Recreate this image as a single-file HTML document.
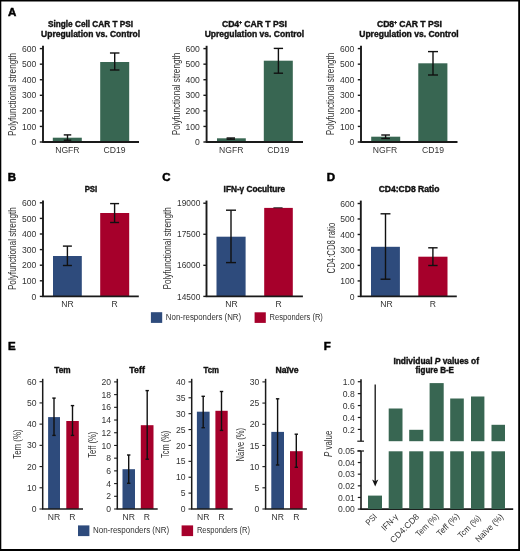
<!DOCTYPE html>
<html><head><meta charset="utf-8"><style>
html,body{margin:0;padding:0;background:#fff;width:520px;height:551px;overflow:hidden}
svg text{font-family:"Liberation Sans", sans-serif}
svg{will-change:transform}
</style></head><body>
<svg width="520" height="551" viewBox="0 0 520 551" style="display:block" font-family='"Liberation Sans", sans-serif'>
<rect x="0" y="0" width="520" height="551" fill="#000"/>
<rect x="1.3" y="1.5" width="516.9" height="547.5" fill="#fff"/>
<text x="8" y="16.0" font-size="11.5" font-weight="bold" stroke="#000" stroke-width="0.5" fill="#000">A</text>
<text x="7.7" y="181.2" font-size="11.5" font-weight="bold" stroke="#000" stroke-width="0.5" fill="#000">B</text>
<text x="162.3" y="181.3" font-size="11.5" font-weight="bold" stroke="#000" stroke-width="0.5" fill="#000">C</text>
<text x="326.7" y="181.3" font-size="11.5" font-weight="bold" stroke="#000" stroke-width="0.5" fill="#000">D</text>
<text x="8.1" y="350" font-size="11.5" font-weight="bold" stroke="#000" stroke-width="0.5" fill="#000">E</text>
<text x="323.8" y="349.7" font-size="11.5" font-weight="bold" stroke="#000" stroke-width="0.5" fill="#000">F</text>
<line x1="43" y1="45.8" x2="43" y2="142" stroke="#1a1a1a" stroke-width="1.9"/>
<line x1="39.8" y1="142" x2="43" y2="142" stroke="#1a1a1a" stroke-width="1.4"/>
<text x="36.30" y="145.10" font-size="8.6" text-anchor="end" fill="#333333">0</text>
<line x1="39.8" y1="126.43" x2="43" y2="126.43" stroke="#1a1a1a" stroke-width="1.4"/>
<text x="36.30" y="129.53" font-size="8.6" text-anchor="end" fill="#333333">100</text>
<line x1="39.8" y1="110.87" x2="43" y2="110.87" stroke="#1a1a1a" stroke-width="1.4"/>
<text x="36.30" y="113.96" font-size="8.6" text-anchor="end" fill="#333333">200</text>
<line x1="39.8" y1="95.3" x2="43" y2="95.3" stroke="#1a1a1a" stroke-width="1.4"/>
<text x="36.30" y="98.40" font-size="8.6" text-anchor="end" fill="#333333">300</text>
<line x1="39.8" y1="79.73" x2="43" y2="79.73" stroke="#1a1a1a" stroke-width="1.4"/>
<text x="36.30" y="82.83" font-size="8.6" text-anchor="end" fill="#333333">400</text>
<line x1="39.8" y1="64.17" x2="43" y2="64.17" stroke="#1a1a1a" stroke-width="1.4"/>
<text x="36.30" y="67.26" font-size="8.6" text-anchor="end" fill="#333333">500</text>
<line x1="39.8" y1="48.6" x2="43" y2="48.6" stroke="#1a1a1a" stroke-width="1.4"/>
<text x="36.30" y="51.70" font-size="8.6" text-anchor="end" fill="#333333">600</text>
<rect x="52.80" y="137.70" width="29.00" height="4.30" fill="#386652"/>
<rect x="100.20" y="62.00" width="29.00" height="80.00" fill="#386652"/>
<line x1="67.5" y1="134.9" x2="67.5" y2="140.2" stroke="#111" stroke-width="1.4"/>
<line x1="63.75" y1="134.9" x2="71.25" y2="134.9" stroke="#111" stroke-width="1.4"/>
<line x1="63.75" y1="140.2" x2="71.25" y2="140.2" stroke="#111" stroke-width="1.4"/>
<line x1="114.7" y1="53" x2="114.7" y2="70" stroke="#111" stroke-width="1.4"/>
<line x1="109.95" y1="53" x2="119.45" y2="53" stroke="#111" stroke-width="1.4"/>
<line x1="109.95" y1="70" x2="119.45" y2="70" stroke="#111" stroke-width="1.4"/>
<line x1="42.2" y1="142" x2="139" y2="142" stroke="#1a1a1a" stroke-width="1.8"/>
<text x="90.5" y="27" font-size="9" font-weight="bold" stroke="#111" stroke-width="0.4" text-anchor="middle" textLength="85" lengthAdjust="spacingAndGlyphs" fill="#111">Single Cell CAR T PSI</text>
<text x="90.6" y="36.8" font-size="9" font-weight="bold" stroke="#111" stroke-width="0.4" text-anchor="middle" textLength="99" lengthAdjust="spacingAndGlyphs" fill="#111">Upregulation vs. Control</text>
<text x="67.4" y="152.7" font-size="8.6" text-anchor="middle" fill="#333333">NGFR</text>
<text x="114.6" y="152.7" font-size="8.6" text-anchor="middle" fill="#333333">CD19</text>
<line x1="206.6" y1="45.8" x2="206.6" y2="142" stroke="#1a1a1a" stroke-width="1.9"/>
<line x1="203.4" y1="142" x2="206.6" y2="142" stroke="#1a1a1a" stroke-width="1.4"/>
<text x="199.90" y="145.10" font-size="8.6" text-anchor="end" fill="#333333">0</text>
<line x1="203.4" y1="126.43" x2="206.6" y2="126.43" stroke="#1a1a1a" stroke-width="1.4"/>
<text x="199.90" y="129.53" font-size="8.6" text-anchor="end" fill="#333333">100</text>
<line x1="203.4" y1="110.87" x2="206.6" y2="110.87" stroke="#1a1a1a" stroke-width="1.4"/>
<text x="199.90" y="113.96" font-size="8.6" text-anchor="end" fill="#333333">200</text>
<line x1="203.4" y1="95.3" x2="206.6" y2="95.3" stroke="#1a1a1a" stroke-width="1.4"/>
<text x="199.90" y="98.40" font-size="8.6" text-anchor="end" fill="#333333">300</text>
<line x1="203.4" y1="79.73" x2="206.6" y2="79.73" stroke="#1a1a1a" stroke-width="1.4"/>
<text x="199.90" y="82.83" font-size="8.6" text-anchor="end" fill="#333333">400</text>
<line x1="203.4" y1="64.17" x2="206.6" y2="64.17" stroke="#1a1a1a" stroke-width="1.4"/>
<text x="199.90" y="67.26" font-size="8.6" text-anchor="end" fill="#333333">500</text>
<line x1="203.4" y1="48.6" x2="206.6" y2="48.6" stroke="#1a1a1a" stroke-width="1.4"/>
<text x="199.90" y="51.70" font-size="8.6" text-anchor="end" fill="#333333">600</text>
<rect x="217.00" y="138.30" width="28.80" height="3.70" fill="#386652"/>
<rect x="263.80" y="60.70" width="29.00" height="81.30" fill="#386652"/>
<line x1="230.8" y1="138" x2="230.8" y2="139.2" stroke="#111" stroke-width="1.4"/>
<line x1="226.6" y1="138" x2="235" y2="138" stroke="#111" stroke-width="1.4"/>
<line x1="226.6" y1="139.2" x2="235" y2="139.2" stroke="#111" stroke-width="1.4"/>
<line x1="278.4" y1="48.4" x2="278.4" y2="73.2" stroke="#111" stroke-width="1.4"/>
<line x1="273.75" y1="48.4" x2="283.05" y2="48.4" stroke="#111" stroke-width="1.4"/>
<line x1="273.75" y1="73.2" x2="283.05" y2="73.2" stroke="#111" stroke-width="1.4"/>
<line x1="205.8" y1="142" x2="303" y2="142" stroke="#1a1a1a" stroke-width="1.8"/>
<text x="254.4" y="27" font-size="9" font-weight="bold" stroke="#111" stroke-width="0.4" text-anchor="middle" textLength="65.0" lengthAdjust="spacingAndGlyphs" fill="#111">CD4<tspan font-size="4.6" dy="-3.4">+</tspan><tspan dy="3.4"> CAR T PSI</tspan></text>
<text x="254.4" y="36.8" font-size="9" font-weight="bold" stroke="#111" stroke-width="0.4" text-anchor="middle" textLength="99.5" lengthAdjust="spacingAndGlyphs" fill="#111">Upregulation vs. Control</text>
<text x="231.3" y="152.7" font-size="8.6" text-anchor="middle" fill="#333333">NGFR</text>
<text x="278.3" y="152.7" font-size="8.6" text-anchor="middle" fill="#333333">CD19</text>
<line x1="361" y1="45.8" x2="361" y2="142" stroke="#1a1a1a" stroke-width="1.9"/>
<line x1="357.8" y1="142" x2="361" y2="142" stroke="#1a1a1a" stroke-width="1.4"/>
<text x="354.30" y="145.10" font-size="8.6" text-anchor="end" fill="#333333">0</text>
<line x1="357.8" y1="126.43" x2="361" y2="126.43" stroke="#1a1a1a" stroke-width="1.4"/>
<text x="354.30" y="129.53" font-size="8.6" text-anchor="end" fill="#333333">100</text>
<line x1="357.8" y1="110.87" x2="361" y2="110.87" stroke="#1a1a1a" stroke-width="1.4"/>
<text x="354.30" y="113.96" font-size="8.6" text-anchor="end" fill="#333333">200</text>
<line x1="357.8" y1="95.3" x2="361" y2="95.3" stroke="#1a1a1a" stroke-width="1.4"/>
<text x="354.30" y="98.40" font-size="8.6" text-anchor="end" fill="#333333">300</text>
<line x1="357.8" y1="79.73" x2="361" y2="79.73" stroke="#1a1a1a" stroke-width="1.4"/>
<text x="354.30" y="82.83" font-size="8.6" text-anchor="end" fill="#333333">400</text>
<line x1="357.8" y1="64.17" x2="361" y2="64.17" stroke="#1a1a1a" stroke-width="1.4"/>
<text x="354.30" y="67.26" font-size="8.6" text-anchor="end" fill="#333333">500</text>
<line x1="357.8" y1="48.6" x2="361" y2="48.6" stroke="#1a1a1a" stroke-width="1.4"/>
<text x="354.30" y="51.70" font-size="8.6" text-anchor="end" fill="#333333">600</text>
<rect x="371.20" y="136.70" width="29.00" height="5.30" fill="#386652"/>
<rect x="418.30" y="63.30" width="29.10" height="78.70" fill="#386652"/>
<line x1="385.6" y1="135" x2="385.6" y2="138.5" stroke="#111" stroke-width="1.4"/>
<line x1="381.25" y1="135" x2="389.95" y2="135" stroke="#111" stroke-width="1.4"/>
<line x1="381.25" y1="138.5" x2="389.95" y2="138.5" stroke="#111" stroke-width="1.4"/>
<line x1="433" y1="51.6" x2="433" y2="75" stroke="#111" stroke-width="1.4"/>
<line x1="428" y1="51.6" x2="438" y2="51.6" stroke="#111" stroke-width="1.4"/>
<line x1="428" y1="75" x2="438" y2="75" stroke="#111" stroke-width="1.4"/>
<line x1="360.2" y1="142" x2="457.5" y2="142" stroke="#1a1a1a" stroke-width="1.8"/>
<text x="409.4" y="27" font-size="9" font-weight="bold" stroke="#111" stroke-width="0.4" text-anchor="middle" textLength="65.0" lengthAdjust="spacingAndGlyphs" fill="#111">CD8<tspan font-size="4.6" dy="-3.4">+</tspan><tspan dy="3.4"> CAR T PSI</tspan></text>
<text x="409" y="36.8" font-size="9" font-weight="bold" stroke="#111" stroke-width="0.4" text-anchor="middle" textLength="99.5" lengthAdjust="spacingAndGlyphs" fill="#111">Upregulation vs. Control</text>
<text x="385" y="152.7" font-size="8.6" text-anchor="middle" fill="#333333">NGFR</text>
<text x="433" y="152.7" font-size="8.6" text-anchor="middle" fill="#333333">CD19</text>
<line x1="43" y1="200.5" x2="43" y2="296.4" stroke="#1a1a1a" stroke-width="1.9"/>
<line x1="39.8" y1="296.4" x2="43" y2="296.4" stroke="#1a1a1a" stroke-width="1.4"/>
<text x="36.30" y="299.50" font-size="8.6" text-anchor="end" fill="#333333">0</text>
<line x1="39.8" y1="280.8" x2="43" y2="280.8" stroke="#1a1a1a" stroke-width="1.4"/>
<text x="36.30" y="283.90" font-size="8.6" text-anchor="end" fill="#333333">100</text>
<line x1="39.8" y1="265.2" x2="43" y2="265.2" stroke="#1a1a1a" stroke-width="1.4"/>
<text x="36.30" y="268.30" font-size="8.6" text-anchor="end" fill="#333333">200</text>
<line x1="39.8" y1="249.6" x2="43" y2="249.6" stroke="#1a1a1a" stroke-width="1.4"/>
<text x="36.30" y="252.70" font-size="8.6" text-anchor="end" fill="#333333">300</text>
<line x1="39.8" y1="234" x2="43" y2="234" stroke="#1a1a1a" stroke-width="1.4"/>
<text x="36.30" y="237.10" font-size="8.6" text-anchor="end" fill="#333333">400</text>
<line x1="39.8" y1="218.4" x2="43" y2="218.4" stroke="#1a1a1a" stroke-width="1.4"/>
<text x="36.30" y="221.50" font-size="8.6" text-anchor="end" fill="#333333">500</text>
<line x1="39.8" y1="202.8" x2="43" y2="202.8" stroke="#1a1a1a" stroke-width="1.4"/>
<text x="36.30" y="205.90" font-size="8.6" text-anchor="end" fill="#333333">600</text>
<rect x="53.00" y="256.00" width="28.80" height="40.40" fill="#2e4b7c"/>
<rect x="100.20" y="213.00" width="29.00" height="83.40" fill="#a6002b"/>
<line x1="67.4" y1="246.1" x2="67.4" y2="265.5" stroke="#111" stroke-width="1.4"/>
<line x1="62.9" y1="246.1" x2="71.9" y2="246.1" stroke="#111" stroke-width="1.4"/>
<line x1="62.9" y1="265.5" x2="71.9" y2="265.5" stroke="#111" stroke-width="1.4"/>
<line x1="114.6" y1="203.6" x2="114.6" y2="222.5" stroke="#111" stroke-width="1.4"/>
<line x1="110.1" y1="203.6" x2="119.1" y2="203.6" stroke="#111" stroke-width="1.4"/>
<line x1="110.1" y1="222.5" x2="119.1" y2="222.5" stroke="#111" stroke-width="1.4"/>
<line x1="42.2" y1="296.4" x2="138.8" y2="296.4" stroke="#1a1a1a" stroke-width="1.6"/>
<text x="90.95" y="191.6" font-size="8.4" font-weight="bold" stroke="#111" stroke-width="0.4" text-anchor="middle" textLength="12.6" lengthAdjust="spacingAndGlyphs" fill="#111">PSI</text>
<text x="67.4" y="307.0" font-size="8.6" text-anchor="middle" fill="#333333">NR</text>
<text x="114.7" y="307.0" font-size="8.6" text-anchor="middle" fill="#333333">R</text>
<line x1="206.5" y1="200.6" x2="206.5" y2="296.4" stroke="#1a1a1a" stroke-width="1.9"/>
<line x1="203.3" y1="296.4" x2="206.5" y2="296.4" stroke="#1a1a1a" stroke-width="1.4"/>
<text x="200.30" y="299.50" font-size="8.6" text-anchor="end" textLength="23.3" lengthAdjust="spacingAndGlyphs" fill="#333333">14500</text>
<line x1="203.3" y1="265.33" x2="206.5" y2="265.33" stroke="#1a1a1a" stroke-width="1.4"/>
<text x="200.30" y="268.43" font-size="8.6" text-anchor="end" textLength="23.3" lengthAdjust="spacingAndGlyphs" fill="#333333">16000</text>
<line x1="203.3" y1="234.27" x2="206.5" y2="234.27" stroke="#1a1a1a" stroke-width="1.4"/>
<text x="200.30" y="237.36" font-size="8.6" text-anchor="end" textLength="23.3" lengthAdjust="spacingAndGlyphs" fill="#333333">17500</text>
<line x1="203.3" y1="203.2" x2="206.5" y2="203.2" stroke="#1a1a1a" stroke-width="1.4"/>
<text x="200.30" y="206.30" font-size="8.6" text-anchor="end" textLength="23.3" lengthAdjust="spacingAndGlyphs" fill="#333333">19000</text>
<rect x="216.50" y="236.70" width="29.10" height="59.70" fill="#2e4b7c"/>
<rect x="264.20" y="207.90" width="28.60" height="88.50" fill="#a6002b"/>
<line x1="231" y1="210.2" x2="231" y2="262.6" stroke="#111" stroke-width="1.4"/>
<line x1="226" y1="210.2" x2="236" y2="210.2" stroke="#111" stroke-width="1.4"/>
<line x1="226" y1="262.6" x2="236" y2="262.6" stroke="#111" stroke-width="1.4"/>
<line x1="273.4" y1="207.8" x2="282.6" y2="207.8" stroke="#222" stroke-width="1.0"/>
<line x1="205.7" y1="296.4" x2="302.9" y2="296.4" stroke="#1a1a1a" stroke-width="1.6"/>
<text x="254.3" y="191.5" font-size="8.4" font-weight="bold" stroke="#111" stroke-width="0.4" text-anchor="middle" textLength="61.4" lengthAdjust="spacingAndGlyphs" fill="#111">IFN-γ Coculture</text>
<text x="231.4" y="307.0" font-size="8.6" text-anchor="middle" fill="#333333">NR</text>
<text x="278.6" y="307.0" font-size="8.6" text-anchor="middle" fill="#333333">R</text>
<line x1="360.8" y1="200.6" x2="360.8" y2="296.4" stroke="#1a1a1a" stroke-width="1.9"/>
<line x1="357.6" y1="296.4" x2="360.8" y2="296.4" stroke="#1a1a1a" stroke-width="1.4"/>
<text x="354.60" y="299.50" font-size="8.6" text-anchor="end" fill="#333333">0</text>
<line x1="357.6" y1="280.92" x2="360.8" y2="280.92" stroke="#1a1a1a" stroke-width="1.4"/>
<text x="354.60" y="284.01" font-size="8.6" text-anchor="end" fill="#333333">100</text>
<line x1="357.6" y1="265.43" x2="360.8" y2="265.43" stroke="#1a1a1a" stroke-width="1.4"/>
<text x="354.60" y="268.53" font-size="8.6" text-anchor="end" fill="#333333">200</text>
<line x1="357.6" y1="249.95" x2="360.8" y2="249.95" stroke="#1a1a1a" stroke-width="1.4"/>
<text x="354.60" y="253.05" font-size="8.6" text-anchor="end" fill="#333333">300</text>
<line x1="357.6" y1="234.47" x2="360.8" y2="234.47" stroke="#1a1a1a" stroke-width="1.4"/>
<text x="354.60" y="237.56" font-size="8.6" text-anchor="end" fill="#333333">400</text>
<line x1="357.6" y1="218.98" x2="360.8" y2="218.98" stroke="#1a1a1a" stroke-width="1.4"/>
<text x="354.60" y="222.08" font-size="8.6" text-anchor="end" fill="#333333">500</text>
<line x1="357.6" y1="203.5" x2="360.8" y2="203.5" stroke="#1a1a1a" stroke-width="1.4"/>
<text x="354.60" y="206.60" font-size="8.6" text-anchor="end" fill="#333333">600</text>
<rect x="371.00" y="246.80" width="28.90" height="49.60" fill="#2e4b7c"/>
<rect x="418.30" y="256.70" width="29.20" height="39.70" fill="#a6002b"/>
<line x1="385.5" y1="213.8" x2="385.5" y2="279.2" stroke="#111" stroke-width="1.4"/>
<line x1="380.55" y1="213.8" x2="390.45" y2="213.8" stroke="#111" stroke-width="1.4"/>
<line x1="380.55" y1="279.2" x2="390.45" y2="279.2" stroke="#111" stroke-width="1.4"/>
<line x1="432.9" y1="247.8" x2="432.9" y2="265.5" stroke="#111" stroke-width="1.4"/>
<line x1="428.2" y1="247.8" x2="437.6" y2="247.8" stroke="#111" stroke-width="1.4"/>
<line x1="428.2" y1="265.5" x2="437.6" y2="265.5" stroke="#111" stroke-width="1.4"/>
<line x1="360" y1="296.4" x2="456.8" y2="296.4" stroke="#1a1a1a" stroke-width="1.6"/>
<text x="409.0" y="191.6" font-size="8.4" font-weight="bold" stroke="#111" stroke-width="0.4" text-anchor="middle" textLength="60.7" lengthAdjust="spacingAndGlyphs" fill="#111">CD4:CD8 Ratio</text>
<text x="386.4" y="307.0" font-size="8.6" text-anchor="middle" fill="#333333">NR</text>
<text x="432.9" y="307.0" font-size="8.6" text-anchor="middle" fill="#333333">R</text>
<rect x="150.90" y="312.20" width="11.30" height="10.70" fill="#2e4b7c"/>
<text x="165.8" y="320.2" font-size="8.4" textLength="75.4" lengthAdjust="spacingAndGlyphs" fill="#333333">Non-responders (NR)</text>
<rect x="254.60" y="312.30" width="11.20" height="10.60" fill="#a6002b"/>
<text x="269.6" y="320.2" font-size="8.4" textLength="53.3" lengthAdjust="spacingAndGlyphs" fill="#333333">Responders (R)</text>
<line x1="42.7" y1="378.8" x2="42.7" y2="509" stroke="#1a1a1a" stroke-width="1.5"/>
<line x1="39.5" y1="509" x2="42.7" y2="509" stroke="#1a1a1a" stroke-width="1.1"/>
<text x="36.50" y="512.10" font-size="8.6" text-anchor="end" fill="#333333">0</text>
<line x1="39.5" y1="487.78" x2="42.7" y2="487.78" stroke="#1a1a1a" stroke-width="1.1"/>
<text x="36.50" y="490.88" font-size="8.6" text-anchor="end" fill="#333333">10</text>
<line x1="39.5" y1="466.57" x2="42.7" y2="466.57" stroke="#1a1a1a" stroke-width="1.1"/>
<text x="36.50" y="469.66" font-size="8.6" text-anchor="end" fill="#333333">20</text>
<line x1="39.5" y1="445.35" x2="42.7" y2="445.35" stroke="#1a1a1a" stroke-width="1.1"/>
<text x="36.50" y="448.45" font-size="8.6" text-anchor="end" fill="#333333">30</text>
<line x1="39.5" y1="424.13" x2="42.7" y2="424.13" stroke="#1a1a1a" stroke-width="1.1"/>
<text x="36.50" y="427.23" font-size="8.6" text-anchor="end" fill="#333333">40</text>
<line x1="39.5" y1="402.92" x2="42.7" y2="402.92" stroke="#1a1a1a" stroke-width="1.1"/>
<text x="36.50" y="406.01" font-size="8.6" text-anchor="end" fill="#333333">50</text>
<line x1="39.5" y1="381.7" x2="42.7" y2="381.7" stroke="#1a1a1a" stroke-width="1.1"/>
<text x="36.50" y="384.80" font-size="8.6" text-anchor="end" fill="#333333">60</text>
<rect x="48.10" y="417.10" width="11.90" height="91.90" fill="#2e4b7c"/>
<rect x="66.30" y="421.00" width="12.50" height="88.00" fill="#a6002b"/>
<line x1="54" y1="398.1" x2="54" y2="435.4" stroke="#111" stroke-width="1.4"/>
<line x1="52.3" y1="398.1" x2="55.7" y2="398.1" stroke="#111" stroke-width="1.4"/>
<line x1="52.3" y1="435.4" x2="55.7" y2="435.4" stroke="#111" stroke-width="1.4"/>
<line x1="72.5" y1="405.6" x2="72.5" y2="435.4" stroke="#111" stroke-width="1.4"/>
<line x1="70.8" y1="405.6" x2="74.2" y2="405.6" stroke="#111" stroke-width="1.4"/>
<line x1="70.8" y1="435.4" x2="74.2" y2="435.4" stroke="#111" stroke-width="1.4"/>
<line x1="42" y1="509" x2="83" y2="509" stroke="#1a1a1a" stroke-width="1.5"/>
<text x="62.5" y="373.3" font-size="8.8" font-weight="bold" stroke="#111" stroke-width="0.4" text-anchor="middle" textLength="16.3" lengthAdjust="spacingAndGlyphs" fill="#111">Tem</text>
<text x="53.95" y="519.6" font-size="8.6" text-anchor="middle" fill="#333333">NR</text>
<text x="72.4" y="519.6" font-size="8.6" text-anchor="middle" fill="#333333">R</text>
<line x1="117.3" y1="378.8" x2="117.3" y2="509" stroke="#1a1a1a" stroke-width="1.5"/>
<line x1="114.1" y1="509" x2="117.3" y2="509" stroke="#1a1a1a" stroke-width="1.1"/>
<text x="111.10" y="512.10" font-size="8.6" text-anchor="end" fill="#333333">0</text>
<line x1="114.1" y1="496.29" x2="117.3" y2="496.29" stroke="#1a1a1a" stroke-width="1.1"/>
<text x="111.10" y="499.39" font-size="8.6" text-anchor="end" fill="#333333">2</text>
<line x1="114.1" y1="483.58" x2="117.3" y2="483.58" stroke="#1a1a1a" stroke-width="1.1"/>
<text x="111.10" y="486.68" font-size="8.6" text-anchor="end" fill="#333333">4</text>
<line x1="114.1" y1="470.87" x2="117.3" y2="470.87" stroke="#1a1a1a" stroke-width="1.1"/>
<text x="111.10" y="473.97" font-size="8.6" text-anchor="end" fill="#333333">6</text>
<line x1="114.1" y1="458.16" x2="117.3" y2="458.16" stroke="#1a1a1a" stroke-width="1.1"/>
<text x="111.10" y="461.26" font-size="8.6" text-anchor="end" fill="#333333">8</text>
<line x1="114.1" y1="445.45" x2="117.3" y2="445.45" stroke="#1a1a1a" stroke-width="1.1"/>
<text x="111.10" y="448.55" font-size="8.6" text-anchor="end" fill="#333333">10</text>
<line x1="114.1" y1="432.74" x2="117.3" y2="432.74" stroke="#1a1a1a" stroke-width="1.1"/>
<text x="111.10" y="435.84" font-size="8.6" text-anchor="end" fill="#333333">12</text>
<line x1="114.1" y1="420.03" x2="117.3" y2="420.03" stroke="#1a1a1a" stroke-width="1.1"/>
<text x="111.10" y="423.13" font-size="8.6" text-anchor="end" fill="#333333">14</text>
<line x1="114.1" y1="407.32" x2="117.3" y2="407.32" stroke="#1a1a1a" stroke-width="1.1"/>
<text x="111.10" y="410.42" font-size="8.6" text-anchor="end" fill="#333333">16</text>
<line x1="114.1" y1="394.61" x2="117.3" y2="394.61" stroke="#1a1a1a" stroke-width="1.1"/>
<text x="111.10" y="397.71" font-size="8.6" text-anchor="end" fill="#333333">18</text>
<line x1="114.1" y1="381.9" x2="117.3" y2="381.9" stroke="#1a1a1a" stroke-width="1.1"/>
<text x="111.10" y="385.00" font-size="8.6" text-anchor="end" fill="#333333">20</text>
<rect x="122.50" y="469.20" width="12.50" height="39.80" fill="#2e4b7c"/>
<rect x="140.80" y="425.20" width="12.70" height="83.80" fill="#a6002b"/>
<line x1="128.7" y1="455" x2="128.7" y2="483.3" stroke="#111" stroke-width="1.4"/>
<line x1="127" y1="455" x2="130.4" y2="455" stroke="#111" stroke-width="1.4"/>
<line x1="127" y1="483.3" x2="130.4" y2="483.3" stroke="#111" stroke-width="1.4"/>
<line x1="147.2" y1="390.6" x2="147.2" y2="459.2" stroke="#111" stroke-width="1.4"/>
<line x1="145.5" y1="390.6" x2="148.9" y2="390.6" stroke="#111" stroke-width="1.4"/>
<line x1="145.5" y1="459.2" x2="148.9" y2="459.2" stroke="#111" stroke-width="1.4"/>
<line x1="116.6" y1="509" x2="157.7" y2="509" stroke="#1a1a1a" stroke-width="1.5"/>
<text x="137.1" y="373.3" font-size="8.8" font-weight="bold" stroke="#111" stroke-width="0.4" text-anchor="middle" textLength="15.5" lengthAdjust="spacingAndGlyphs" fill="#111">Teff</text>
<text x="128.7" y="519.6" font-size="8.6" text-anchor="middle" fill="#333333">NR</text>
<text x="146.9" y="519.6" font-size="8.6" text-anchor="middle" fill="#333333">R</text>
<line x1="191.7" y1="378.8" x2="191.7" y2="509" stroke="#1a1a1a" stroke-width="1.5"/>
<line x1="188.5" y1="509" x2="191.7" y2="509" stroke="#1a1a1a" stroke-width="1.1"/>
<text x="185.50" y="512.10" font-size="8.6" text-anchor="end" fill="#333333">0</text>
<line x1="188.5" y1="493.11" x2="191.7" y2="493.11" stroke="#1a1a1a" stroke-width="1.1"/>
<text x="185.50" y="496.21" font-size="8.6" text-anchor="end" fill="#333333">5</text>
<line x1="188.5" y1="477.23" x2="191.7" y2="477.23" stroke="#1a1a1a" stroke-width="1.1"/>
<text x="185.50" y="480.32" font-size="8.6" text-anchor="end" fill="#333333">10</text>
<line x1="188.5" y1="461.34" x2="191.7" y2="461.34" stroke="#1a1a1a" stroke-width="1.1"/>
<text x="185.50" y="464.43" font-size="8.6" text-anchor="end" fill="#333333">15</text>
<line x1="188.5" y1="445.45" x2="191.7" y2="445.45" stroke="#1a1a1a" stroke-width="1.1"/>
<text x="185.50" y="448.55" font-size="8.6" text-anchor="end" fill="#333333">20</text>
<line x1="188.5" y1="429.56" x2="191.7" y2="429.56" stroke="#1a1a1a" stroke-width="1.1"/>
<text x="185.50" y="432.66" font-size="8.6" text-anchor="end" fill="#333333">25</text>
<line x1="188.5" y1="413.67" x2="191.7" y2="413.67" stroke="#1a1a1a" stroke-width="1.1"/>
<text x="185.50" y="416.77" font-size="8.6" text-anchor="end" fill="#333333">30</text>
<line x1="188.5" y1="397.79" x2="191.7" y2="397.79" stroke="#1a1a1a" stroke-width="1.1"/>
<text x="185.50" y="400.88" font-size="8.6" text-anchor="end" fill="#333333">35</text>
<line x1="188.5" y1="381.9" x2="191.7" y2="381.9" stroke="#1a1a1a" stroke-width="1.1"/>
<text x="185.50" y="385.00" font-size="8.6" text-anchor="end" fill="#333333">40</text>
<rect x="196.90" y="411.70" width="12.70" height="97.30" fill="#2e4b7c"/>
<rect x="215.40" y="410.80" width="12.30" height="98.20" fill="#a6002b"/>
<line x1="203.2" y1="396.3" x2="203.2" y2="427.7" stroke="#111" stroke-width="1.4"/>
<line x1="201.5" y1="396.3" x2="204.9" y2="396.3" stroke="#111" stroke-width="1.4"/>
<line x1="201.5" y1="427.7" x2="204.9" y2="427.7" stroke="#111" stroke-width="1.4"/>
<line x1="221.5" y1="391.5" x2="221.5" y2="430.4" stroke="#111" stroke-width="1.4"/>
<line x1="219.8" y1="391.5" x2="223.2" y2="391.5" stroke="#111" stroke-width="1.4"/>
<line x1="219.8" y1="430.4" x2="223.2" y2="430.4" stroke="#111" stroke-width="1.4"/>
<line x1="191" y1="509" x2="232.7" y2="509" stroke="#1a1a1a" stroke-width="1.5"/>
<text x="211.25" y="373.3" font-size="8.8" font-weight="bold" stroke="#111" stroke-width="0.4" text-anchor="middle" textLength="15.4" lengthAdjust="spacingAndGlyphs" fill="#111">Tcm</text>
<text x="203.3" y="519.6" font-size="8.6" text-anchor="middle" fill="#333333">NR</text>
<text x="221.5" y="519.6" font-size="8.6" text-anchor="middle" fill="#333333">R</text>
<line x1="265.6" y1="378.8" x2="265.6" y2="509" stroke="#1a1a1a" stroke-width="1.5"/>
<line x1="262.4" y1="509" x2="265.6" y2="509" stroke="#1a1a1a" stroke-width="1.1"/>
<text x="259.40" y="512.10" font-size="8.6" text-anchor="end" fill="#333333">0</text>
<line x1="262.4" y1="487.82" x2="265.6" y2="487.82" stroke="#1a1a1a" stroke-width="1.1"/>
<text x="259.40" y="490.91" font-size="8.6" text-anchor="end" fill="#333333">5</text>
<line x1="262.4" y1="466.63" x2="265.6" y2="466.63" stroke="#1a1a1a" stroke-width="1.1"/>
<text x="259.40" y="469.73" font-size="8.6" text-anchor="end" fill="#333333">10</text>
<line x1="262.4" y1="445.45" x2="265.6" y2="445.45" stroke="#1a1a1a" stroke-width="1.1"/>
<text x="259.40" y="448.55" font-size="8.6" text-anchor="end" fill="#333333">15</text>
<line x1="262.4" y1="424.27" x2="265.6" y2="424.27" stroke="#1a1a1a" stroke-width="1.1"/>
<text x="259.40" y="427.36" font-size="8.6" text-anchor="end" fill="#333333">20</text>
<line x1="262.4" y1="403.08" x2="265.6" y2="403.08" stroke="#1a1a1a" stroke-width="1.1"/>
<text x="259.40" y="406.18" font-size="8.6" text-anchor="end" fill="#333333">25</text>
<line x1="262.4" y1="381.9" x2="265.6" y2="381.9" stroke="#1a1a1a" stroke-width="1.1"/>
<text x="259.40" y="385.00" font-size="8.6" text-anchor="end" fill="#333333">30</text>
<rect x="271.30" y="431.90" width="12.70" height="77.10" fill="#2e4b7c"/>
<rect x="290.00" y="451.20" width="12.70" height="57.80" fill="#a6002b"/>
<line x1="277.6" y1="398.8" x2="277.6" y2="465" stroke="#111" stroke-width="1.4"/>
<line x1="275.9" y1="398.8" x2="279.3" y2="398.8" stroke="#111" stroke-width="1.4"/>
<line x1="275.9" y1="465" x2="279.3" y2="465" stroke="#111" stroke-width="1.4"/>
<line x1="296.3" y1="434.2" x2="296.3" y2="467.3" stroke="#111" stroke-width="1.4"/>
<line x1="294.6" y1="434.2" x2="298" y2="434.2" stroke="#111" stroke-width="1.4"/>
<line x1="294.6" y1="467.3" x2="298" y2="467.3" stroke="#111" stroke-width="1.4"/>
<line x1="264.9" y1="509" x2="306.9" y2="509" stroke="#1a1a1a" stroke-width="1.5"/>
<text x="287.0" y="373.3" font-size="8.8" font-weight="bold" stroke="#111" stroke-width="0.4" text-anchor="middle" textLength="23.0" lengthAdjust="spacingAndGlyphs" fill="#111">Naïve</text>
<text x="277.7" y="519.6" font-size="8.6" text-anchor="middle" fill="#333333">NR</text>
<text x="296.3" y="519.6" font-size="8.6" text-anchor="middle" fill="#333333">R</text>
<rect x="78.00" y="525.40" width="11.40" height="10.70" fill="#2e4b7c"/>
<text x="93.0" y="533.3" font-size="8.4" textLength="76.2" lengthAdjust="spacingAndGlyphs" fill="#333333">Non-responders (NR)</text>
<rect x="181.60" y="525.40" width="11.50" height="10.70" fill="#a6002b"/>
<text x="196.9" y="533.3" font-size="8.4" textLength="53.1" lengthAdjust="spacingAndGlyphs" fill="#333333">Responders (R)</text>
<line x1="361" y1="379.2" x2="361" y2="441.3" stroke="#1a1a1a" stroke-width="1.6"/>
<line x1="357.8" y1="381.7" x2="361" y2="381.7" stroke="#1a1a1a" stroke-width="1.2"/>
<text x="354.80" y="384.80" font-size="8.6" text-anchor="end" fill="#333333">1.0</text>
<line x1="357.8" y1="393.63" x2="361" y2="393.63" stroke="#1a1a1a" stroke-width="1.2"/>
<text x="354.80" y="396.73" font-size="8.6" text-anchor="end" fill="#333333">0.8</text>
<line x1="357.8" y1="405.56" x2="361" y2="405.56" stroke="#1a1a1a" stroke-width="1.2"/>
<text x="354.80" y="408.66" font-size="8.6" text-anchor="end" fill="#333333">0.6</text>
<line x1="357.8" y1="417.49" x2="361" y2="417.49" stroke="#1a1a1a" stroke-width="1.2"/>
<text x="354.80" y="420.59" font-size="8.6" text-anchor="end" fill="#333333">0.4</text>
<line x1="357.8" y1="429.42" x2="361" y2="429.42" stroke="#1a1a1a" stroke-width="1.2"/>
<text x="354.80" y="432.52" font-size="8.6" text-anchor="end" fill="#333333">0.2</text>
<line x1="357.3" y1="441.2" x2="364" y2="441.2" stroke="#1a1a1a" stroke-width="1.2"/>
<line x1="361" y1="450.9" x2="361" y2="509.1" stroke="#1a1a1a" stroke-width="1.6"/>
<line x1="357.3" y1="451" x2="364" y2="451" stroke="#1a1a1a" stroke-width="1.2"/>
<line x1="357.8" y1="450.9" x2="361" y2="450.9" stroke="#1a1a1a" stroke-width="1.2"/>
<text x="354.80" y="454.00" font-size="8.6" text-anchor="end" fill="#333333">0.05</text>
<line x1="357.8" y1="462.54" x2="361" y2="462.54" stroke="#1a1a1a" stroke-width="1.2"/>
<text x="354.80" y="465.64" font-size="8.6" text-anchor="end" fill="#333333">0.04</text>
<line x1="357.8" y1="474.18" x2="361" y2="474.18" stroke="#1a1a1a" stroke-width="1.2"/>
<text x="354.80" y="477.28" font-size="8.6" text-anchor="end" fill="#333333">0.03</text>
<line x1="357.8" y1="485.82" x2="361" y2="485.82" stroke="#1a1a1a" stroke-width="1.2"/>
<text x="354.80" y="488.92" font-size="8.6" text-anchor="end" fill="#333333">0.02</text>
<line x1="357.8" y1="497.46" x2="361" y2="497.46" stroke="#1a1a1a" stroke-width="1.2"/>
<text x="354.80" y="500.56" font-size="8.6" text-anchor="end" fill="#333333">0.01</text>
<line x1="357.8" y1="509.1" x2="361" y2="509.1" stroke="#1a1a1a" stroke-width="1.2"/>
<text x="354.80" y="512.20" font-size="8.6" text-anchor="end" fill="#333333">0.00</text>
<line x1="360.2" y1="509.1" x2="513.2" y2="509.1" stroke="#1a1a1a" stroke-width="1.8"/>
<rect x="368.00" y="495.60" width="14.00" height="13.50" fill="#386652"/>
<rect x="388.70" y="408.50" width="13.80" height="32.70" fill="#386652"/>
<rect x="388.70" y="451.30" width="13.80" height="57.80" fill="#386652"/>
<rect x="409.20" y="429.80" width="14.10" height="11.40" fill="#386652"/>
<rect x="409.20" y="451.30" width="14.10" height="57.80" fill="#386652"/>
<rect x="429.60" y="383.10" width="14.10" height="58.10" fill="#386652"/>
<rect x="429.60" y="451.30" width="14.10" height="57.80" fill="#386652"/>
<rect x="450.20" y="398.50" width="13.60" height="42.70" fill="#386652"/>
<rect x="450.20" y="451.30" width="13.60" height="57.80" fill="#386652"/>
<rect x="471.00" y="396.50" width="13.40" height="44.70" fill="#386652"/>
<rect x="471.00" y="451.30" width="13.40" height="57.80" fill="#386652"/>
<rect x="491.50" y="424.80" width="13.50" height="16.40" fill="#386652"/>
<rect x="491.50" y="451.30" width="13.50" height="57.80" fill="#386652"/>
<line x1="375.2" y1="384.6" x2="375.2" y2="482" stroke="#111" stroke-width="1.3"/>
<path d="M372.1,479.6 L375.2,481.2 L378.3,479.6 L375.2,486.6 Z" fill="#111"/>
<text x="436.2" y="363.7" font-size="8.5" font-weight="bold" stroke="#111" stroke-width="0.4" text-anchor="middle" textLength="85.5" lengthAdjust="spacingAndGlyphs" fill="#111">Individual <tspan font-style="italic">P</tspan> values of</text>
<text x="434.8" y="373.2" font-size="8.5" font-weight="bold" stroke="#111" stroke-width="0.4" text-anchor="middle" textLength="38.4" lengthAdjust="spacingAndGlyphs" fill="#111">figure B-E</text>
<text transform="translate(377.6,517.2) rotate(-45)" x="0" y="0" font-size="8.6" text-anchor="end" textLength="12.31" lengthAdjust="spacingAndGlyphs" fill="#333333">PSI</text>
<text transform="translate(398.6,517.4) rotate(-45)" x="0" y="0" font-size="8.6" text-anchor="end" textLength="19.74" lengthAdjust="spacingAndGlyphs" fill="#333333">IFN-γ</text>
<text transform="translate(419.7,517.3) rotate(-45)" x="0" y="0" font-size="8.6" text-anchor="end" textLength="36.94" lengthAdjust="spacingAndGlyphs" fill="#333333">CD4:CD8</text>
<text transform="translate(439.2,517.0) rotate(-45)" x="0" y="0" font-size="8.6" text-anchor="end" textLength="28.62" lengthAdjust="spacingAndGlyphs" fill="#333333">Tem (%)</text>
<text transform="translate(459.9,516.9) rotate(-45)" x="0" y="0" font-size="8.6" text-anchor="end" textLength="28.06" lengthAdjust="spacingAndGlyphs" fill="#333333">Teff (%)</text>
<text transform="translate(481.4,518.6) rotate(-45)" x="0" y="0" font-size="8.6" text-anchor="end" textLength="28.42" lengthAdjust="spacingAndGlyphs" fill="#333333">Tcm (%)</text>
<text transform="translate(504.0,517.4) rotate(-45)" x="0" y="0" font-size="8.6" text-anchor="end" textLength="35.83" lengthAdjust="spacingAndGlyphs" fill="#333333">Naïve (%)</text>
<text transform="translate(16.1,135.9) rotate(-90)" x="0" y="0" font-size="10.5" textLength="83.0" lengthAdjust="spacingAndGlyphs" fill="#333333">Polyfunctional strength</text>
<text transform="translate(180.0,135.3) rotate(-90)" x="0" y="0" font-size="10.5" textLength="82.6" lengthAdjust="spacingAndGlyphs" fill="#333333">Polyfunctional strength</text>
<text transform="translate(334.4,135.3) rotate(-90)" x="0" y="0" font-size="10.5" textLength="82.6" lengthAdjust="spacingAndGlyphs" fill="#333333">Polyfunctional strength</text>
<text transform="translate(16.0,290.1) rotate(-90)" x="0" y="0" font-size="10.5" textLength="83.0" lengthAdjust="spacingAndGlyphs" fill="#333333">Polyfunctional strength</text>
<text transform="translate(170.8,289.5) rotate(-90)" x="0" y="0" font-size="10.5" textLength="82.4" lengthAdjust="spacingAndGlyphs" fill="#333333">Polyfunctional strength</text>
<text transform="translate(334.7,273.5) rotate(-90)" x="0" y="0" font-size="10.5" textLength="50.8" lengthAdjust="spacingAndGlyphs" fill="#333333">CD4:CD8 ratio</text>
<text transform="translate(21.1,458.7) rotate(-90)" x="0" y="0" font-size="10.5" textLength="29.2" lengthAdjust="spacingAndGlyphs" fill="#333333">Tem (%)</text>
<text transform="translate(95.8,457.7) rotate(-90)" x="0" y="0" font-size="10.5" textLength="26.0" lengthAdjust="spacingAndGlyphs" fill="#333333">Teff (%)</text>
<text transform="translate(169.4,457.9) rotate(-90)" x="0" y="0" font-size="10.5" textLength="27.2" lengthAdjust="spacingAndGlyphs" fill="#333333">Tcm (%)</text>
<text transform="translate(244.1,461.5) rotate(-90)" x="0" y="0" font-size="10.5" textLength="33.6" lengthAdjust="spacingAndGlyphs" fill="#333333">Naïve (%)</text>
<text transform="translate(331.8,456.9) rotate(-90)" x="0" y="0" font-size="10.5" textLength="26.2" lengthAdjust="spacingAndGlyphs" fill="#333333"><tspan font-style="italic">P</tspan> value</text>
</svg>
</body></html>
